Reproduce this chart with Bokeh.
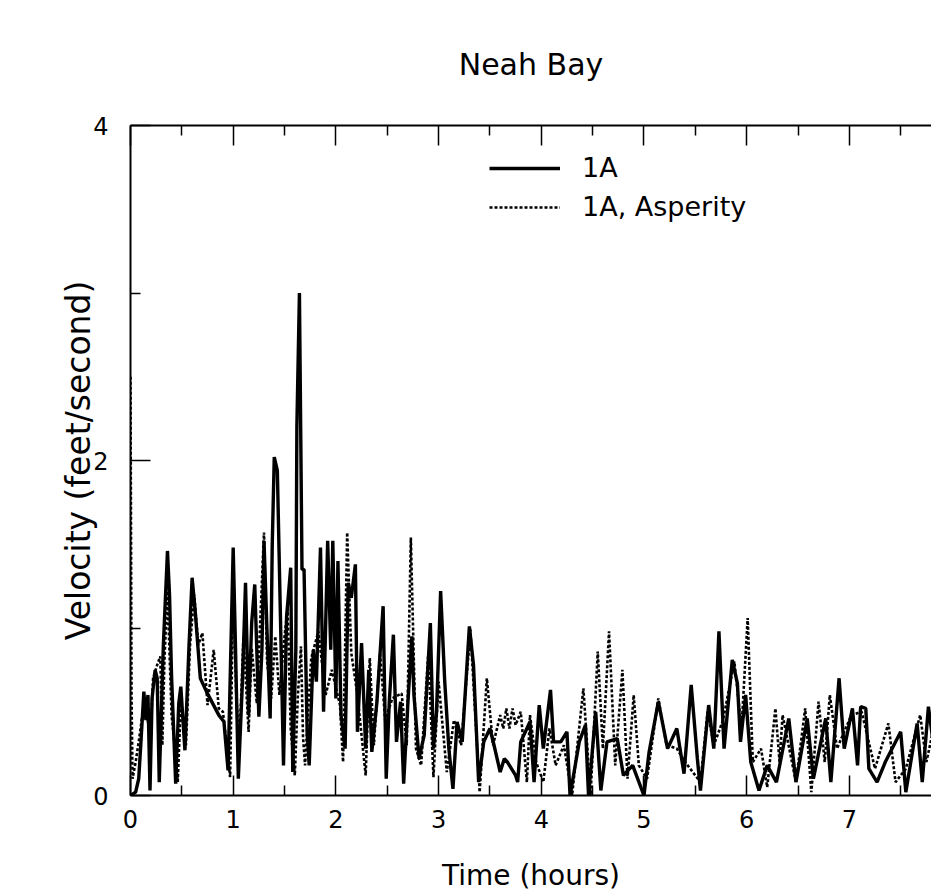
from bokeh.plotting import figure
from bokeh.models import FixedTicker, LinearAxis, Range1d, Legend, LegendItem
from bokeh.embed import file_html
from bokeh.resources import INLINE

title_text = "Neah Bay"
x_title = "Time (hours)"
y_title = "Velocity (feet/second)"
series_names = ["1A", "1A, Asperity"]
x_major = [0, 1, 2, 3, 4, 5, 6, 7]
x_minor = [0.5, 1.5, 2.5, 3.5, 4.5, 5.5, 6.5, 7.5]
y_major = [0, 2, 4]
y_minor = [1, 3]

solid_t = [0.00, 0.05, 0.08, 0.10, 0.13, 0.15, 0.17, 0.19, 0.21, 0.24, 0.26, 0.28, 0.32, 0.36, 0.38, 0.40,
           0.44, 0.47, 0.49, 0.53, 0.57, 0.60, 0.63, 0.68, 0.74, 0.80, 0.86, 0.91, 0.95, 1.00, 1.02, 1.05,
           1.09, 1.12, 1.15, 1.18, 1.21, 1.25, 1.28, 1.30, 1.33, 1.36, 1.38, 1.40, 1.43, 1.46, 1.49, 1.52,
           1.56, 1.58, 1.61, 1.62, 1.645, 1.67, 1.69, 1.72, 1.74, 1.78, 1.81, 1.85, 1.88, 1.92, 1.95, 1.97,
           2.00, 2.02, 2.05, 2.09, 2.12, 2.15, 2.19, 2.21, 2.25, 2.29, 2.32, 2.35, 2.40, 2.46, 2.49, 2.52,
           2.56, 2.59, 2.63, 2.66, 2.70, 2.74, 2.76, 2.81, 2.86, 2.92, 2.95, 2.98, 3.02, 3.06, 3.10, 3.14,
           3.18, 3.23, 3.30, 3.34, 3.39, 3.44, 3.50, 3.54, 3.60, 3.64, 3.67, 3.72, 3.75, 3.77, 3.80, 3.89,
           3.93, 3.98, 4.02, 4.09, 4.12, 4.19, 4.25, 4.28, 4.37, 4.43, 4.46, 4.53, 4.58, 4.64, 4.74, 4.80,
           4.89, 5.00, 5.05, 5.14, 5.23, 5.32, 5.39, 5.46, 5.52, 5.55, 5.63, 5.68, 5.73, 5.78, 5.86, 5.91,
           5.94, 5.99, 6.04, 6.12, 6.20, 6.29, 6.41, 6.48, 6.59, 6.65, 6.77, 6.82, 6.90, 6.95, 7.03, 7.08,
           7.11, 7.16, 7.19, 7.27, 7.35, 7.50, 7.55, 7.66, 7.71, 7.77, 7.82]
solid_v = [0.00, 0.02, 0.10, 0.30, 0.62, 0.45, 0.60, 0.03, 0.58, 0.75, 0.70, 0.08, 0.90, 1.46, 1.20, 0.71,
           0.07, 0.55, 0.65, 0.27, 0.90, 1.30, 1.10, 0.70, 0.62, 0.55, 0.48, 0.44, 0.15, 1.48, 0.95, 0.10,
           0.68, 1.27, 0.48, 1.03, 1.26, 0.47, 0.87, 1.52, 0.97, 0.46, 1.49, 2.02, 1.94, 1.07, 0.18, 1.07,
           1.36, 0.14, 0.87, 2.20, 3.00, 1.35, 1.35, 0.38, 0.18, 0.87, 0.68, 1.48, 0.50, 1.52, 0.87, 1.52,
           0.58, 1.40, 0.48, 0.28, 1.27, 1.18, 1.38, 0.38, 0.91, 0.28, 0.75, 0.26, 0.56, 1.13, 0.10, 0.56,
           0.96, 0.32, 0.56, 0.07, 0.54, 0.95, 0.60, 0.22, 0.36, 1.03, 0.28, 0.50, 1.22, 0.68, 0.28, 0.04,
           0.44, 0.32, 1.01, 0.78, 0.08, 0.32, 0.40, 0.30, 0.14, 0.22, 0.20, 0.15, 0.12, 0.08, 0.32, 0.44,
           0.08, 0.54, 0.28, 0.63, 0.32, 0.32, 0.38, 0.00, 0.32, 0.42, 0.00, 0.50, 0.03, 0.32, 0.34, 0.12,
           0.18, 0.00, 0.26, 0.56, 0.28, 0.40, 0.13, 0.66, 0.22, 0.03, 0.54, 0.28, 0.98, 0.28, 0.81, 0.67,
           0.32, 0.60, 0.20, 0.03, 0.18, 0.08, 0.46, 0.08, 0.46, 0.10, 0.46, 0.08, 0.70, 0.28, 0.52, 0.18,
           0.53, 0.52, 0.16, 0.08, 0.20, 0.38, 0.02, 0.43, 0.08, 0.53, 0.30]

asp_t = [0.000, 0.010, 0.02, 0.05, 0.08, 0.12, 0.15, 0.19, 0.22, 0.26, 0.29, 0.31, 0.33, 0.36, 0.40, 0.43,
         0.46, 0.49, 0.54, 0.58, 0.62, 0.66, 0.70, 0.75, 0.78, 0.81, 0.86, 0.90, 0.97, 1.00, 1.03, 1.06,
         1.10, 1.15, 1.18, 1.23, 1.30, 1.33, 1.37, 1.41, 1.45, 1.50, 1.53, 1.56, 1.60, 1.63, 1.66, 1.68,
         1.70, 1.76, 1.83, 1.90, 1.96, 2.04, 2.07, 2.11, 2.15, 2.21, 2.29, 2.33, 2.37, 2.43, 2.48, 2.55,
         2.64, 2.69, 2.73, 2.78, 2.83, 2.90, 2.95, 3.00, 3.08, 3.15, 3.22, 3.31, 3.40, 3.47, 3.53, 3.60,
         3.63, 3.66, 3.69, 3.72, 3.75, 3.80, 3.86, 3.89, 3.95, 4.02, 4.08, 4.14, 4.22, 4.30, 4.41, 4.48,
         4.55, 4.60, 4.66, 4.72, 4.79, 4.84, 4.90, 4.95, 5.03, 5.14, 5.22, 5.32, 5.40, 5.55, 5.62, 5.68,
         5.77, 5.88, 5.95, 6.01, 6.06, 6.14, 6.20, 6.28, 6.32, 6.35, 6.48, 6.57, 6.63, 6.70, 6.76, 6.81,
         6.88, 7.02, 7.12, 7.25, 7.38, 7.45, 7.55, 7.69, 7.75, 7.82]
asp_v = [2.50, 0.60, 0.10, 0.20, 0.32, 0.50, 0.58, 0.30, 0.70, 0.78, 0.83, 0.30, 0.80, 1.22, 0.48, 0.30,
         0.08, 0.55, 0.30, 0.90, 1.20, 0.90, 0.97, 0.54, 0.70, 0.87, 0.52, 0.50, 0.11, 1.20, 0.60, 0.30,
         0.95, 0.38, 0.88, 0.55, 1.57, 0.80, 0.58, 0.95, 0.60, 0.95, 1.12, 0.40, 0.12, 0.60, 0.89, 0.35,
         0.18, 0.82, 0.98, 0.60, 0.75, 0.54, 0.20, 1.57, 0.85, 0.60, 0.12, 0.82, 0.30, 0.85, 0.45, 0.58,
         0.61, 0.30, 1.54, 0.28, 0.18, 0.85, 0.11, 0.68, 0.14, 0.45, 0.30, 0.99, 0.02, 0.70, 0.30, 0.48,
         0.40, 0.52, 0.40, 0.52, 0.42, 0.50, 0.08, 0.48, 0.20, 0.08, 0.40, 0.18, 0.30, 0.00, 0.64, 0.00,
         0.86, 0.28, 0.98, 0.18, 0.75, 0.10, 0.60, 0.18, 0.10, 0.58, 0.30, 0.28, 0.20, 0.08, 0.50, 0.30,
         0.45, 0.80, 0.40, 1.06, 0.20, 0.28, 0.05, 0.52, 0.20, 0.48, 0.08, 0.52, 0.02, 0.56, 0.20, 0.60,
         0.28, 0.48, 0.50, 0.16, 0.43, 0.08, 0.16, 0.48, 0.20, 0.40]

FONT = "DejaVu Sans"

p = figure(width=931, height=894, x_range=Range1d(0, 7.8), y_range=Range1d(0, 4),
           output_backend="svg", toolbar_location=None,
           x_axis_location=None, y_axis_location=None,
           min_border_left=130, min_border_right=0, min_border_top=124, min_border_bottom=96)
p.outline_line_color = None
p.xgrid.visible = False
p.ygrid.visible = False
p.background_fill_color = "white"
p.border_fill_color = "white"

p.title.text = title_text
p.title.align = "center"
p.title.text_font = FONT
p.title.text_font_size = "30px"
p.title.text_font_style = "normal"
p.title.text_color = "black"
p.title.standoff = 88

x_ticker = FixedTicker(ticks=x_major, minor_ticks=x_minor)
y_ticker = FixedTicker(ticks=y_major, minor_ticks=y_minor)

bottom_axis = LinearAxis(ticker=x_ticker, axis_label=x_title)
top_axis = LinearAxis(ticker=x_ticker)
left_axis = LinearAxis(ticker=y_ticker, axis_label=y_title)

for ax in [bottom_axis, top_axis, left_axis]:
    ax.axis_line_width = 2
    ax.axis_line_color = "black"
    ax.major_tick_in = 20
    ax.major_tick_out = 0
    ax.minor_tick_in = 10
    ax.minor_tick_out = 0
    ax.major_tick_line_width = 1.5
    ax.minor_tick_line_width = 1.5
    ax.major_tick_line_color = "black"
    ax.minor_tick_line_color = "black"
    ax.major_label_text_font = FONT
    ax.major_label_text_font_size = "24px"
    ax.major_label_text_color = "black"
    ax.axis_label_text_font = FONT
    ax.axis_label_text_font_style = "normal"
    ax.axis_label_text_color = "black"

top_axis.major_label_text_color = None
top_axis.major_label_text_font_size = "10px"
top_axis.major_label_standoff = 0

bottom_axis.major_label_standoff = 14
bottom_axis.axis_label_text_font_size = "28px"
bottom_axis.axis_label_standoff = 28

left_axis.major_label_standoff = 22
left_axis.axis_label_text_font_size = "33px"
left_axis.axis_label_standoff = -8

p.add_layout(bottom_axis, "below")
p.add_layout(top_axis, "above")
p.add_layout(left_axis, "left")

r2 = p.line(asp_t, asp_v, line_color="black", line_width=2.6, line_dash="3 2")
r1 = p.line(solid_t, solid_v, line_color="black", line_width=3.4)

legend = Legend(items=[LegendItem(label=series_names[0], renderers=[r1]),
                       LegendItem(label=series_names[1], renderers=[r2])],
                location=(359, 573), orientation="vertical",
                glyph_width=71, glyph_height=30, label_height=30, label_standoff=22,
                spacing=8, padding=0, margin=0, border_line_color=None,
                background_fill_alpha=0, label_text_font_size="27px", label_text_font=FONT,
                label_text_color="black")
p.add_layout(legend)

open("out.html", "w").write(file_html(p, INLINE))
